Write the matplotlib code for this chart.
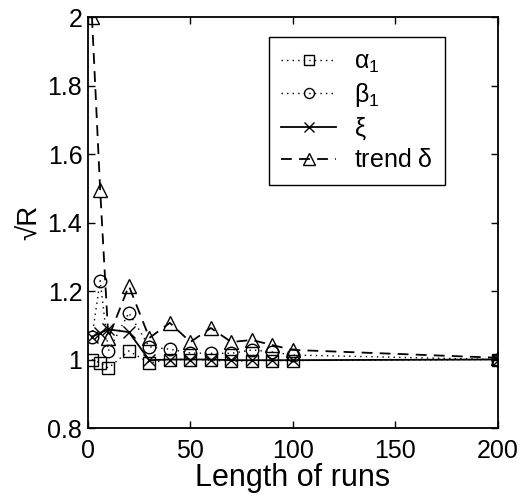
import numpy as np
import matplotlib
matplotlib.use("Agg")
import matplotlib.pyplot as plt

plt.rcParams['font.family'] = ['Liberation Sans', 'DejaVu Sans']
plt.rcParams['mathtext.fontset'] = 'custom'
plt.rcParams['mathtext.rm'] = 'Liberation Sans'
plt.rcParams['mathtext.it'] = 'Liberation Sans'

# run lengths
runs = [2, 6, 10, 20, 30, 40, 50, 60, 70, 80, 90, 100, 200]

alpha1 = [1.00, 0.99, 0.975, 1.025, 0.99, 1.00, 1.00, 0.998, 0.995, 0.997, 0.997, 0.997, 1.00]
beta1 = [1.066, 1.23, 1.025, 1.136, 1.037, 1.03, 1.019, 1.018, 1.018, 1.028, 1.022, 1.013, 1.00]
xi = [1.066, 1.078, 1.088, 1.08, 0.998, 1.00, 1.00, 1.00, 0.998, 0.998, 0.998, 0.998, 1.00]
trend = [2.0, 1.495, 1.063, 1.215, 1.063, 1.107, 1.051, 1.092, 1.051, 1.057, 1.042, 1.028, 1.005]

fig = plt.figure(figsize=(5.23, 5.0), dpi=100)
ax = fig.add_axes([0.168, 0.144, 0.784, 0.822])

ms = 9
ax.plot(runs, alpha1, ':', color='k', marker='s', mfc='none', ms=ms, lw=1,
        dashes=(1, 3), label=r'$\alpha_1$')
ax.plot(runs, beta1, ':', color='k', marker='o', mfc='none', ms=ms, lw=1,
        dashes=(1, 3), label=r'$\beta_1$')
ax.plot(runs, xi, '-', color='k', marker='x', mfc='none', ms=ms, lw=1.3, label=r'$\xi$')
ax.plot(runs, trend, '--', color='k', marker='^', mfc='none', ms=ms + 1, lw=1.3,
        dashes=(6, 4), label=r'trend $\delta$')

ax.set_xlim(0, 200)
ax.set_ylim(0.8, 2.0)
ax.set_xticks([0, 50, 100, 150, 200])
ax.set_yticks([0.8, 1.0, 1.2, 1.4, 1.6, 1.8, 2.0])
ax.set_yticklabels(['0.8', '1', '1.2', '1.4', '1.6', '1.8', '2'])
ax.tick_params(direction='in', top=True, right=True, labelsize=18, length=5, width=1)
ax.tick_params(axis='x', pad=8)
ax.tick_params(axis='y', pad=4)
for s in ax.spines.values():
    s.set_linewidth(1.3)

ax.set_xlabel('Length of runs', fontsize=22, labelpad=0)
ax.set_ylabel('√R', fontsize=20, labelpad=3)

leg = ax.legend(loc='upper right', bbox_to_anchor=(0.871, 0.951), borderaxespad=0,
                fontsize=18, numpoints=1, fancybox=False, framealpha=1,
                handlelength=2.2, borderpad=0.5, labelspacing=0.25,
                handletextpad=0.7, markerscale=0.8)
leg.get_frame().set_edgecolor('k')
leg.get_frame().set_linewidth(1)

plt.savefig('out.png', dpi=100)
